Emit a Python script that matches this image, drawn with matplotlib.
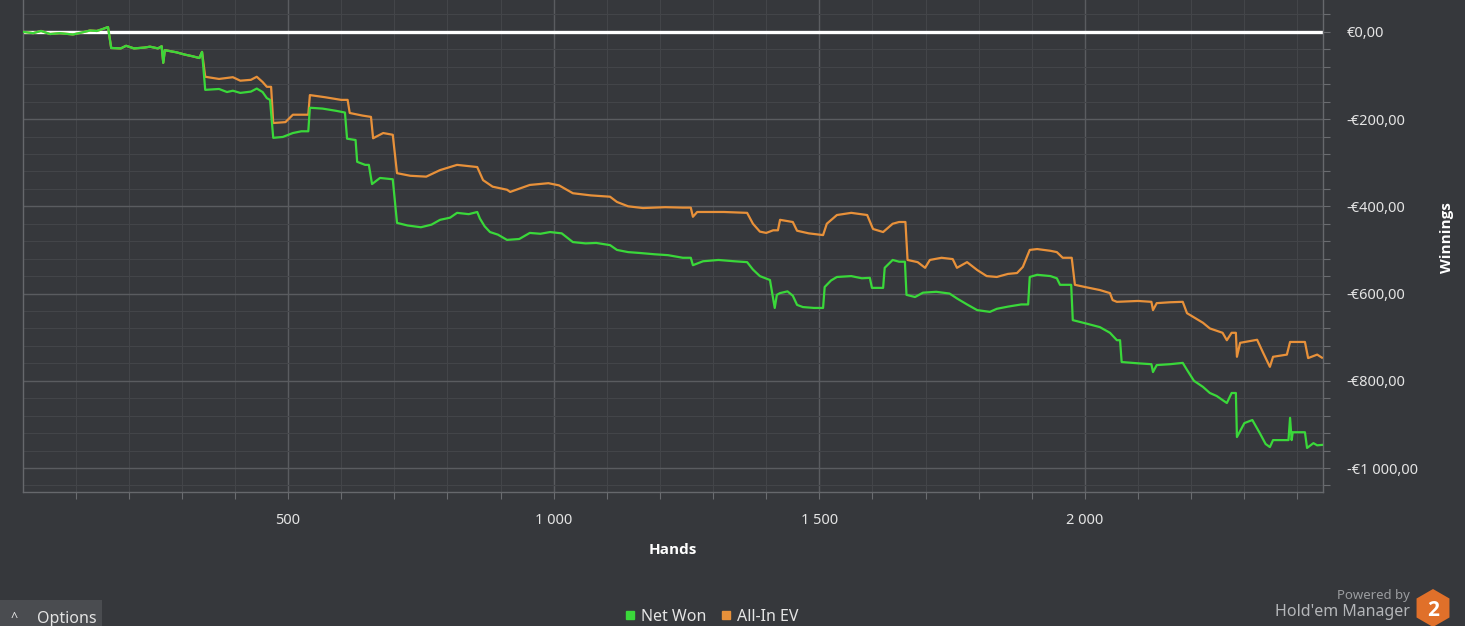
"""Hold'em Manager style winnings graph: Net Won vs All-In EV over hands.

Writes out.png.
"""
from __future__ import annotations

import matplotlib
matplotlib.use("Agg")
import matplotlib.pyplot as plt
from matplotlib.lines import Line2D
from matplotlib.patches import Rectangle, RegularPolygon
from matplotlib.ticker import FuncFormatter, MultipleLocator

# ─── data ──────────────────────────────────────────────────────────────
net_hands = [
    1, 20, 35, 52, 70, 95, 110, 127, 140, 150, 161, 167, 185, 195, 210, 230,
    240, 255, 262, 265, 268, 290, 305, 320, 333, 338, 344, 370, 385, 396, 410,
    430, 441, 452, 460, 466, 472, 490, 509, 525, 538, 541, 565, 590, 607, 611,
    627, 630, 645, 652, 658, 673, 697, 705, 725, 750, 770, 786, 805, 818, 840,
    856, 861, 870, 880, 895, 912, 935, 955, 975, 993, 1015, 1036, 1060, 1080,
    1106, 1119, 1140, 1162, 1190, 1215, 1243, 1258, 1262, 1281, 1310, 1340,
    1364, 1375, 1388, 1407, 1416, 1420, 1426, 1440, 1450, 1458, 1469, 1490,
    1507, 1510, 1522, 1533, 1560, 1580, 1595, 1599, 1620, 1623, 1638, 1650,
    1661, 1664, 1680, 1695, 1720, 1745, 1760, 1778, 1797, 1821, 1834, 1855,
    1880, 1893, 1896, 1910, 1935, 1947, 1953, 1974, 1977, 2000, 2028, 2047,
    2060, 2066, 2069, 2100, 2125, 2128, 2135, 2160, 2184, 2192, 2205, 2222,
    2235, 2248, 2267, 2276, 2284, 2286, 2300, 2315, 2329, 2340, 2348, 2354,
    2383, 2386, 2389, 2391, 2414, 2418, 2430, 2437, 2446,
]
net_won = [
    0, -3, 2, -5, -3, -6, -2, 3, 2, 6, 11, -37, -38, -32, -38, -36,
    -34, -38, -33, -71, -42, -47, -52, -56, -60, -46, -133, -131, -138, -135, -140,
    -137, -130, -138, -152, -156, -243, -241, -232, -228, -228, -174, -176, -181, -185, -245,
    -248, -298, -305, -305, -349, -335, -338, -438, -444, -448, -442, -431, -426, -415, -418,
    -413, -428, -446, -459, -465, -477, -475, -461, -463, -459, -462, -482, -485, -484,
    -489, -500, -505, -507, -510, -512, -518, -518, -535, -526, -523, -526,
    -528, -545, -560, -569, -633, -603, -599, -595, -605, -626, -631, -633,
    -633, -585, -570, -562, -560, -565, -564, -587, -587, -541, -523, -527,
    -527, -603, -608, -598, -596, -600, -612, -625, -638, -642, -635, -630,
    -625, -625, -562, -557, -560, -565, -580, -580, -661, -668, -677, -690,
    -707, -707, -757, -760, -762, -780, -764, -762, -759, -775, -800, -814,
    -828, -835, -851, -828, -828, -929, -897, -890, -920, -945, -952, -936,
    -936, -885, -936, -918, -918, -954, -943, -948, -947,
]

ev_hands = [
    1, 20, 35, 52, 70, 95, 110, 127, 140, 150, 161, 167, 185, 195, 210, 230,
    240, 255, 262, 265, 268, 290, 305, 320, 333, 338, 344, 370, 396, 410, 430,
    441, 452, 460, 468, 472, 495, 509, 538, 541, 570, 600, 612, 616, 640, 656,
    660, 679, 697, 705, 730, 760, 786, 818, 840, 856, 867, 885, 912, 918, 955,
    990, 1010, 1036, 1070, 1106, 1119, 1140, 1168, 1210, 1243, 1258, 1262,
    1270, 1320, 1364, 1375, 1388, 1400, 1413, 1422, 1426, 1450, 1458, 1480,
    1507, 1514, 1533, 1560, 1590, 1601, 1620, 1638, 1650, 1662, 1666, 1685,
    1699, 1708, 1730, 1751, 1759, 1778, 1797, 1815, 1834, 1855, 1872, 1883,
    1896, 1910, 1935, 1947, 1958, 1975, 1981, 2000, 2028, 2047, 2052, 2060,
    2100, 2125, 2128, 2135, 2160, 2184, 2192, 2222, 2235, 2259, 2267, 2276,
    2284, 2286, 2292, 2324, 2335, 2348, 2354, 2380, 2386, 2414, 2420, 2437,
    2446,
]
all_in_ev = [
    0, -3, 2, -5, -3, -6, -2, 3, 2, 6, 11, -37, -38, -32, -38, -36,
    -34, -38, -33, -71, -42, -47, -52, -56, -60, -46, -103, -108, -104, -112, -110,
    -103, -115, -126, -126, -209, -207, -190, -190, -145, -150, -156, -156, -186, -192, -195,
    -244, -232, -236, -324, -330, -332, -317, -305, -308, -310, -340, -355, -362, -367, -351,
    -347, -352, -370, -375, -378, -390, -400, -404, -402, -403, -403, -424,
    -413, -413, -415, -440, -458, -461, -455, -455, -431, -436, -456, -462,
    -466, -440, -420, -415, -420, -452, -459, -440, -436, -436, -523, -528,
    -541, -523, -518, -521, -541, -528, -546, -560, -562, -555, -553, -539,
    -500, -498, -502, -505, -518, -518, -580, -585, -592, -599, -615, -619,
    -617, -619, -638, -622, -620, -619, -645, -667, -680, -690, -707, -690,
    -690, -745, -713, -706, -735, -768, -745, -740, -711, -711, -748, -740,
    -747,
]

x_ticks = [500, 1000, 1500, 2000]
y_ticks = [0, -200, -400, -600, -800, -1000]

BG = "#36383c"
GREEN = "#3ad83a"
ORANGE = "#e8913a"
TEXT = "#e4e4e4"
FONT = "Noto Sans"
BOLD_FONT = ["Open Sans", "DejaVu Sans"]

W, H = 1465, 626


def fmt_euro(v, _pos):
    s = f"{abs(v):,.2f}".replace(",", " ").replace(".", ",")
    return ("-" if v < 0 else "") + "€" + s


def make(out_path: str = "out.png") -> str:
    plt.rcParams["font.family"] = [FONT, "DejaVu Sans"]
    fig = plt.figure(figsize=(W / 100, H / 100), dpi=100, facecolor=BG)
    ax = fig.add_axes([23 / W, 1 - 492 / H, 1300 / W, 492 / H])
    ax.set_facecolor(BG)

    # grid: majors lighter, minors darker
    ax.xaxis.set_major_locator(MultipleLocator(500))
    ax.xaxis.set_minor_locator(MultipleLocator(100))
    ax.yaxis.set_major_locator(MultipleLocator(200))
    ax.yaxis.set_minor_locator(MultipleLocator(40))
    ax.grid(True, which="major", color="#5a5c60", lw=1.0)
    ax.grid(True, which="minor", color="#434549", lw=0.8)
    ax.set_axisbelow(True)

    ax.axhline(0, color="white", lw=2.4, zorder=2)
    ax.plot(ev_hands, all_in_ev, color=ORANGE, lw=1.6, zorder=3)
    ax.plot(net_hands, net_won, color=GREEN, lw=1.6, zorder=4)

    ax.set_xlim(1, 2448)
    ax.set_ylim(-1055, 73)
    ax.set_xticks(x_ticks)
    ax.set_yticks(y_ticks)
    ax.xaxis.set_major_formatter(FuncFormatter(
        lambda v, p: f"{int(v):,}".replace(",", " ")))
    ax.yaxis.set_major_formatter(FuncFormatter(fmt_euro))

    ax.yaxis.tick_right()
    ax.tick_params(axis="both", which="both", colors="#6a6c70", labelcolor=TEXT,
                   labelsize=10.5, length=5, width=0.8)
    ax.tick_params(axis="x", which="major", pad=10)
    ax.tick_params(axis="y", which="major", pad=12)
    for lbl in ax.get_yticklabels():
        lbl.set_horizontalalignment("left")

    for side in ("left", "bottom", "right"):
        ax.spines[side].set_color("#66686c")
        ax.spines[side].set_linewidth(1.0)
    ax.spines["top"].set_visible(False)

    fig.text(673 / W, 1 - 550 / H, "Hands", ha="center", va="center",
             color="white", fontsize=11, fontweight="bold", family=BOLD_FONT)
    fig.text(1447 / W, 1 - 238 / H, "Winnings", ha="center", va="center",
             rotation=90, color="white", fontsize=11, fontweight="bold",
             family=BOLD_FONT)

    # legend at the bottom
    handles = [
        Line2D([], [], ls="none", marker="s", ms=6, color=GREEN, label="Net Won"),
        Line2D([], [], ls="none", marker="s", ms=6, color=ORANGE, label="All-In EV"),
    ]
    fig.legend(handles=handles, loc="center", ncol=2, frameon=False,
               bbox_to_anchor=(712 / W, 1 - 617 / H), fontsize=11.5,
               labelcolor=TEXT, handlelength=0.6, handletextpad=0.4,
               columnspacing=0.9)

    # "Options" tab bottom-left
    fig.add_artist(Rectangle((0, 0), 102 / W, 26 / H, transform=fig.transFigure,
                             facecolor="#4a4c50", edgecolor="none"))
    fig.text(14 / W, 1 - 618 / H, "^", color=TEXT, fontsize=9,
             ha="center", va="center")
    fig.text(37 / W, 1 - 619 / H, "Options", color=TEXT, fontsize=11.5,
             ha="left", va="center")

    # branding bottom-right
    fig.text(1410 / W, 1 - 595 / H, "Powered by", color="#9a9c9f", fontsize=9.5,
             ha="right", va="center")
    fig.text(1410 / W, 1 - 612 / H, "Hold'em Manager", color="#b4b6b9",
             fontsize=11.5, ha="right", va="center")
    lax = fig.add_axes([1414 / W, 0, 38 / W, 38 / H])
    lax.set_xlim(0, 38)
    lax.set_ylim(0, 38)
    lax.axis("off")
    lax.add_patch(RegularPolygon((19, 18), 6, radius=19, facecolor="#e0702a",
                                 edgecolor="none"))
    lax.text(19, 16, "2", color="white", fontsize=15, fontweight="bold",
             family=BOLD_FONT, ha="center", va="center")

    fig.savefig(out_path, dpi=100, facecolor=BG)
    plt.close(fig)
    return out_path


if __name__ == "__main__":
    print(f"wrote {make()}")
